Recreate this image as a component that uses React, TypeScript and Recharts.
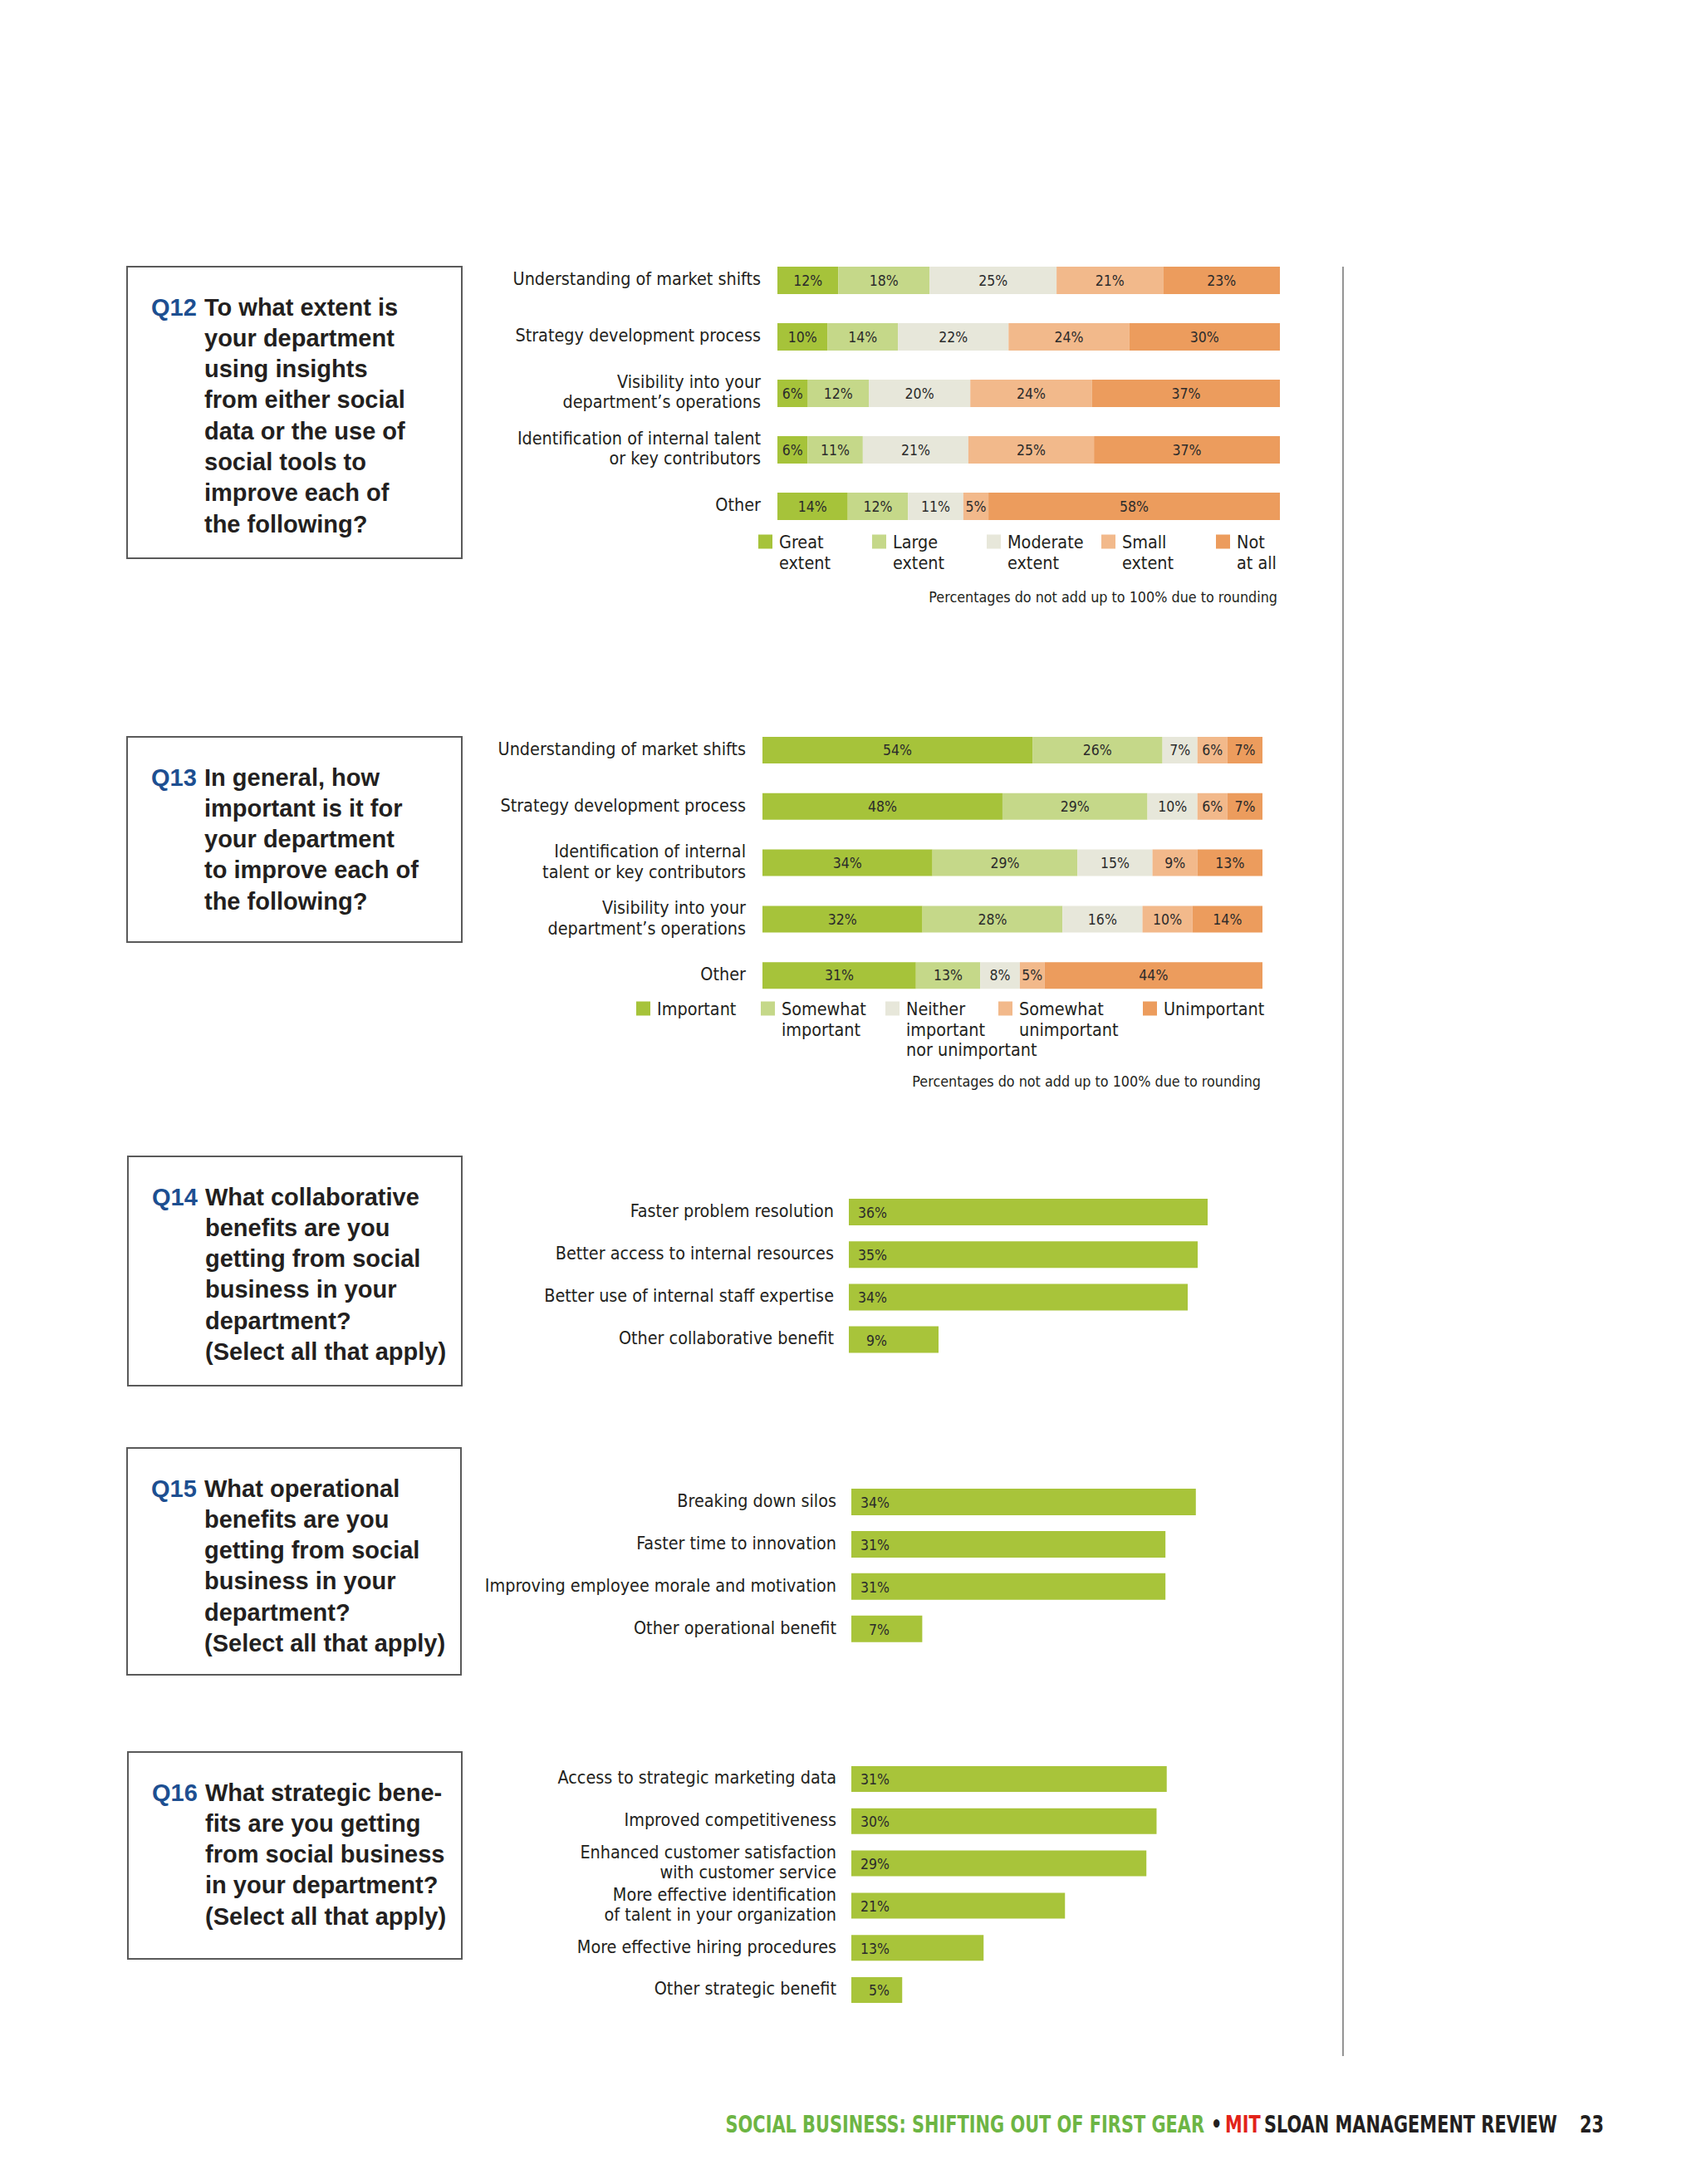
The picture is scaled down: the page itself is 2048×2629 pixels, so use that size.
import { BarChart, Bar, XAxis, YAxis, LabelList } from 'recharts'

const INK = '#231f20'
const BLUE = '#1d4f91'
const NARROW = '"DejaVu Sans Condensed", "Liberation Sans Narrow", sans-serif'
const SANS = '"Liberation Sans", Arial, sans-serif'

const C1 = '#a6c33a'
const C2 = '#c5d889'
const C3 = '#e7e7da'
const C4 = '#f2b98b'
const C5 = '#ec9c5d'
const BAR_GREEN = '#a8c43a'

// Q12
const q12Categories = [
  'Understanding of market shifts',
  'Strategy development process',
  'Visibility into your\ndepartment’s operations',
  'Identification of internal talent\nor key contributors',
  'Other',
]
const q12Great = [12, 10, 6, 6, 14]
const q12Large = [18, 14, 12, 11, 12]
const q12Moderate = [25, 22, 20, 21, 11]
const q12Small = [21, 24, 24, 25, 5]
const q12NotAtAll = [23, 30, 37, 37, 58]
const q12Legend = ['Great\nextent', 'Large\nextent', 'Moderate\nextent', 'Small\nextent', 'Not\nat all']

// Q13
const q13Categories = [
  'Understanding of market shifts',
  'Strategy development process',
  'Identification of internal\ntalent or key contributors',
  'Visibility into your\ndepartment’s operations',
  'Other',
]
const q13Important = [54, 48, 34, 32, 31]
const q13Somewhat = [26, 29, 29, 28, 13]
const q13Neither = [7, 10, 15, 16, 8]
const q13SomewhatUn = [6, 6, 9, 10, 5]
const q13Unimportant = [7, 7, 13, 14, 44]
const q13Legend = ['Important', 'Somewhat\nimportant', 'Neither\nimportant\nnor unimportant', 'Somewhat\nunimportant', 'Unimportant']

// Q14
const q14Categories = [
  'Faster problem resolution',
  'Better access to internal resources',
  'Better use of internal staff expertise',
  'Other collaborative benefit',
]
const q14Values = [36, 35, 34, 9]

// Q15
const q15Categories = [
  'Breaking down silos',
  'Faster time to innovation',
  'Improving employee morale and motivation',
  'Other operational benefit',
]
const q15Values = [34, 31, 31, 7]

// Q16
const q16Categories = [
  'Access to strategic marketing data',
  'Improved competitiveness',
  'Enhanced customer satisfaction\nwith customer service',
  'More effective identification\nof talent in your organization',
  'More effective hiring procedures',
  'Other strategic benefit',
]
const q16Values = [31, 30, 29, 21, 13, 5]

const KEYS = ['s1', 's2', 's3', 's4', 's5']
const COLORS = [C1, C2, C3, C4, C5]

const stackRows = (cats: string[], cols: number[][]) =>
  cats.map((name, i) => {
    const row: any = { name }
    cols.forEach((c, k) => (row[KEYS[k]] = c[i]))
    return row
  })

const q12Data = stackRows(q12Categories, [q12Great, q12Large, q12Moderate, q12Small, q12NotAtAll])
const q13Data = stackRows(q13Categories, [q13Important, q13Somewhat, q13Neither, q13SomewhatUn, q13Unimportant])

const simpleRows = (cats: string[], vals: number[]) => cats.map((name, i) => ({ name, value: vals[i] }))

const LABEL_SIZE = 21.4
const VALUE_SIZE = 17.5

const CategoryTick = (props: any) => {
  const { x, y, payload } = props
  const lines = String(payload.value).split('\n')
  return (
    <text x={x} y={y} textAnchor="end" fontFamily={NARROW} fontSize={LABEL_SIZE} fill={INK}>
      {lines.map((l, i) => (
        <tspan key={i} x={x} y={y + 6 + (i - (lines.length - 1) / 2) * 24.4}>
          {l}
        </tspan>
      ))}
    </text>
  )
}

const CHART_LEFT = 400

function StackedChart({ data, top, plotLeft, plotRight, pitch, barSize }: any) {
  const n = data.length
  return (
    <div style={{ position: 'absolute', left: CHART_LEFT, top }}>
      <BarChart
        width={plotRight - CHART_LEFT}
        height={pitch * n}
        data={data}
        layout="vertical"
        stackOffset="expand"
        margin={{ top: 0, right: 0, bottom: 0, left: 0 }}
      >
        <XAxis type="number" hide />
        <YAxis
          type="category"
          dataKey="name"
          width={plotLeft - CHART_LEFT}
          axisLine={false}
          tickLine={false}
          tickSize={0}
          tickMargin={20}
          interval={0}
          tick={CategoryTick}
        />
        {KEYS.map((k, i) => (
          <Bar key={k} dataKey={k} stackId="a" fill={COLORS[i]} barSize={barSize} isAnimationActive={false}>
            <LabelList
              dataKey={k}
              position="center"
              formatter={(v: any) => `${v}%`}
              fill="#2b2b2b"
              fontSize={VALUE_SIZE}
              fontFamily={NARROW}
            />
          </Bar>
        ))}
      </BarChart>
    </div>
  )
}

const ValueLabel = (props: any) => {
  const { x, y, height, value } = props
  return (
    <text x={x + 46} y={y + height / 2 + 7} textAnchor="end" fontFamily={NARROW} fontSize={VALUE_SIZE} fill="#2b2b2b">
      {value}%
    </text>
  )
}

function SimpleChart({ data, top, plotLeft, pxPerPct, pitch, barSize }: any) {
  const n = data.length
  const max = 40
  return (
    <div style={{ position: 'absolute', left: CHART_LEFT, top }}>
      <BarChart
        width={plotLeft - CHART_LEFT + max * pxPerPct}
        height={pitch * n}
        data={data}
        layout="vertical"
        margin={{ top: 0, right: 0, bottom: 0, left: 0 }}
      >
        <XAxis type="number" domain={[0, max]} hide />
        <YAxis
          type="category"
          dataKey="name"
          width={plotLeft - CHART_LEFT}
          axisLine={false}
          tickLine={false}
          tickSize={0}
          tickMargin={18}
          interval={0}
          tick={CategoryTick}
        />
        <Bar dataKey="value" fill={BAR_GREEN} barSize={barSize} isAnimationActive={false}>
          <LabelList dataKey="value" content={ValueLabel} />
        </Bar>
      </BarChart>
    </div>
  )
}

function QuestionBox({ x, y, w, h, q, lines }: any) {
  const base = y + 58.5
  return (
    <g>
      <rect x={x} y={y} width={w} height={h} fill="none" stroke="#5a5a5a" strokeWidth={2} />
      <text x={x + 29} y={base} fontFamily={SANS} fontWeight={700} fontSize={29} fill={BLUE}>
        {q}
      </text>
      {lines.map((l: string, i: number) => (
        <text key={i} x={x + 93} y={base + i * 37.3} fontFamily={SANS} fontWeight={700} fontSize={29} fill={INK}>
          {l}
        </text>
      ))}
    </g>
  )
}

function LegendRow({ xs, baseline, labels }: any) {
  return (
    <g>
      {labels.map((lab: string, i: number) => (
        <g key={i}>
          <rect x={xs[i]} y={baseline - 16.5} width={17} height={17} fill={COLORS[i]} />
          {lab.split('\n').map((l, j) => (
            <text key={j} x={xs[i] + 25} y={baseline + j * 24.5} fontFamily={NARROW} fontSize={LABEL_SIZE} fill={INK}>
              {l}
            </text>
          ))}
        </g>
      ))}
    </g>
  )
}

const Footnote = ({ x, y }: any) => (
  <text x={x} y={y} textAnchor="end" fontFamily={NARROW} fontSize={17.8} fill={INK}>
    Percentages do not add up to 100% due to rounding
  </text>
)

// footer drawn in a horizontally squeezed group; positions given in page pixels
const FOOT_X = 874
const FOOT_S = 0.8
const fx = (px: number) => (px - FOOT_X) / FOOT_S

const Footer = () => (
  <g transform={`translate(${FOOT_X},2567) scale(${FOOT_S},1)`} fontFamily={NARROW} fontWeight={700} fontSize={29}>
    <text x={fx(1450)} y={0} textAnchor="end" fill="#6db544">
      SOCIAL BUSINESS: SHIFTING OUT OF FIRST GEAR
    </text>
    <text x={fx(1458)} y={0} fill={INK}>
      •
    </text>
    <text x={fx(1475)} y={0} fill="#e2231a">
      MIT
    </text>
    <text x={fx(1522)} y={0} fill={INK}>
      SLOAN MANAGEMENT REVIEW
    </text>
    <text x={fx(1931)} y={0} textAnchor="end" fill={INK}>
      23
    </text>
  </g>
)

export default function App() {
  return (
    <div style={{ position: 'absolute', left: 0, top: 0, width: 2048, height: 2629, background: '#fff', overflow: 'hidden' }}>
      <svg width={2048} height={2629} style={{ position: 'absolute', left: 0, top: 0 }}>
        <QuestionBox
          x={153}
          y={321}
          w={403}
          h={351}
          q="Q12"
          lines={['To what extent is', 'your department', 'using insights', 'from either social', 'data or the use of', 'social tools to', 'improve each of', 'the following?']}
        />
        <QuestionBox
          x={153}
          y={887}
          w={403}
          h={247}
          q="Q13"
          lines={['In general, how', 'important is it for', 'your department', 'to improve each of', 'the following?']}
        />
        <QuestionBox
          x={154}
          y={1392}
          w={402}
          h={276}
          q="Q14"
          lines={['What collaborative', 'benefits are you', 'getting from social', 'business in your', 'department?', '(Select all that apply)']}
        />
        <QuestionBox
          x={153}
          y={1743}
          w={402}
          h={273}
          q="Q15"
          lines={['What operational', 'benefits are you', 'getting from social', 'business in your', 'department?', '(Select all that apply)']}
        />
        <QuestionBox
          x={154}
          y={2109}
          w={402}
          h={249}
          q="Q16"
          lines={['What strategic bene-', 'fits are you getting', 'from social business', 'in your department?', '(Select all that apply)']}
        />

        <LegendRow xs={[913, 1050, 1188, 1326, 1464]} baseline={660} labels={q12Legend} />
        <Footnote x={1538} y={725} />
        <LegendRow xs={[766, 916, 1066, 1202, 1376]} baseline={1222} labels={q13Legend} />
        <Footnote x={1518} y={1308} />

        <line x1={1617} y1={321} x2={1617} y2={2475} stroke="#7a7a7a" strokeWidth={1.6} />

        <Footer />
      </svg>

      <StackedChart data={q12Data} top={303} plotLeft={936} plotRight={1541} pitch={68} barSize={33} />
      <StackedChart data={q13Data} top={869} plotLeft={918} plotRight={1520} pitch={67.8} barSize={32} />
      <SimpleChart data={simpleRows(q14Categories, q14Values)} top={1433.4} plotLeft={1022} pxPerPct={12.0} pitch={51.2} barSize={32} />
      <SimpleChart data={simpleRows(q15Categories, q15Values)} top={1783} plotLeft={1025} pxPerPct={12.2} pitch={50.9} barSize={32} />
      <SimpleChart data={simpleRows(q16Categories, q16Values)} top={2115.6} plotLeft={1025} pxPerPct={12.25} pitch={50.8} barSize={31} />
    </div>
  )
}
